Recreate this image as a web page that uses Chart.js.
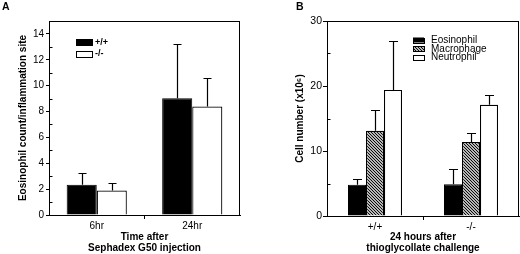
<!DOCTYPE html>
<html>
<head>
<meta charset="utf-8">
<script src="https://cdn.jsdelivr.net/npm/chart.js@4.4.0/dist/chart.umd.min.js"></script>
<style>
  html, body { margin: 0; padding: 0; background: #fff; }
  #wrap { position: relative; width: 520px; height: 254px; }
  canvas { position: absolute; top: 0; }
  .panel { position: absolute; top: 1px; font: bold 10.5px 'Liberation Sans', Arial, sans-serif; line-height: 11px; }
</style>
</head>
<body>
<div id="wrap">
  <canvas id="chartA" width="260" height="254" style="left:0"></canvas>
  <canvas id="chartB" width="260" height="254" style="left:260px"></canvas>
  <div class="panel" style="left:2px">A</div>
  <div class="panel" style="left:296px">B</div>
</div>
<script>
// panel A - eosinophils after Sephadex G50
var timeLabels = ["6hr", "24hr"];
var genotypes = ["+/+", "-/-"];
var eosWild = [2.33, 9.03];
var eosWildErr = [0.91, 4.17];
var eosKnock = [1.89, 8.38];
var eosKnockErr = [0.61, 2.2];

// panel B - cells 24h after thioglycollate
var genotypeLabels = ["+/+", "-/-"];
var cellNames = ["Eosinophil", "Macrophage", "Neutrophil"];
var eosinophil = [4.8, 4.9];
var eosinophilErr = [0.85, 2.4];
var macrophage = [13.1, 11.4];
var macrophageErr = [3.2, 1.3];
var neutrophil = [19.4, 17.1];
var neutrophilErr = [7.6, 1.5];

var FONT = "'Liberation Sans', Arial, Helvetica, sans-serif";
Chart.defaults.font.family = FONT;
Chart.defaults.color = "#000";

// diagonal hatch for macrophage bars
function hatch(ctx) {
  var c = document.createElement("canvas");
  c.width = 3; c.height = 3;
  var g = c.getContext("2d");
  g.fillStyle = "#fff";
  g.fillRect(0, 0, 3, 3);
  g.strokeStyle = "#000";
  g.lineWidth = 1.1;
  g.beginPath();
  g.moveTo(-1, -1); g.lineTo(4, 4);
  g.moveTo(-1, 2); g.lineTo(1, 4);
  g.moveTo(2, -1); g.lineTo(4, 1);
  g.stroke();
  return ctx.createPattern(c, "repeat");
}

// upward error bars with a cap
var errorBars = {
  id: "errorBars",
  afterDatasetsDraw: function (chart, args, opts) {
    var ctx = chart.ctx, y = chart.scales.y;
    ctx.save();
    ctx.strokeStyle = "#000";
    ctx.lineWidth = 1.2;
    chart.data.datasets.forEach(function (ds, i) {
      chart.getDatasetMeta(i).data.forEach(function (bar, j) {
        var top = Math.round(y.getPixelForValue(ds.data[j] + ds.errors[j])) + 0.5;
        var x = Math.round(bar.x) + 0.5;
        ctx.beginPath();
        ctx.moveTo(x, bar.y);
        ctx.lineTo(x, top);
        ctx.moveTo(x - opts.cap / 2, top);
        ctx.lineTo(x + opts.cap / 2, top);
        ctx.stroke();
      });
    });
    ctx.restore();
  }
};

// box around plot, inward minor ticks, legend inside plot
var frame = {
  id: "frame",
  afterDraw: function (chart, args, opts) {
    var ctx = chart.ctx, a = chart.chartArea, y = chart.scales.y;
    ctx.save();
    ctx.strokeStyle = "#000";
    ctx.lineWidth = 1;
    var l = Math.round(a.left) + 0.5, t = Math.round(a.top) + 0.5;
    var r = Math.round(a.right) - 0.5, b = Math.round(a.bottom) + 0.5;
    ctx.strokeRect(l, t, r - l, b - t);
    y.ticks.forEach(function (tk) {
      if (tk.value % opts.major !== 0) {
        var py = Math.round(y.getPixelForValue(tk.value)) + 0.5;
        ctx.beginPath();
        ctx.moveTo(l, py);
        ctx.lineTo(l + 3, py);
        ctx.stroke();
      }
    });
    var lg = opts.legend;
    ctx.font = lg.font;
    ctx.textBaseline = "middle";
    ctx.fillStyle = "#000";
    chart.data.datasets.forEach(function (ds, i) {
      var bx = a.left + lg.x, by = a.top + lg.y + i * lg.step;
      ctx.fillStyle = ds.backgroundColor;
      ctx.fillRect(bx, by, lg.w, lg.h);
      ctx.strokeRect(Math.round(bx) + 0.5, Math.round(by) + 0.5, lg.w, lg.h);
      ctx.fillStyle = "#000";
      ctx.fillText(ds.label, bx + lg.w + lg.gap, by + lg.h / 2 + 0.5);
    });
    ctx.restore();
  }
};

function baseOptions(o) {
  return {
    responsive: false,
    animation: false,
    events: [],
    layout: { padding: { top: 21, right: o.right, left: 0, bottom: 0 } },
    plugins: {
      legend: { display: false },
      tooltip: { enabled: false },
      errorBars: { cap: o.cap },
      frame: { major: o.major, legend: o.legend }
    },
    scales: {
      x: {
        grid: {
          drawOnChartArea: false, offset: true, tickLength: 4,
          tickColor: function (c) { return c.index === 1 ? "#000" : "rgba(0,0,0,0)"; }
        },
        border: { color: "#000" },
        ticks: { font: { size: 10 }, padding: 1, color: "#000" },
        title: {
          display: true, text: o.xTitle, color: "#000",
          font: { size: 10, weight: "bold", lineHeight: 1.1 },
          padding: { top: 0, bottom: 0 }
        },
        afterFit: function (s) { s.height = o.xHeight; }
      },
      y: {
        min: 0, max: o.max,
        grid: {
          drawOnChartArea: false, tickLength: o.tickLen,
          tickColor: function (c) { return c.tick && c.tick.value % o.major === 0 ? "#000" : "rgba(0,0,0,0)"; }
        },
        border: { color: "#000" },
        ticks: {
          stepSize: o.step, autoSkip: false, padding: o.tickPad, color: "#000",
          font: { size: o.yFont },
          callback: function (v) { return v % o.major === 0 ? v : ""; }
        },
        title: {
          display: true, text: o.yTitle, color: "#000",
          font: { size: 10, weight: "bold" },
          padding: { top: o.yTitlePad, bottom: 0 }
        },
        afterFit: function (s) { s.width = o.yWidth; }
      }
    }
  };
}

new Chart(document.getElementById("chartA"), {
  type: "bar",
  data: {
    labels: timeLabels,
    datasets: [
      { label: genotypes[0], data: eosWild, errors: eosWildErr, backgroundColor: "#000",
        borderColor: "#000", borderWidth: 1, categoryPercentage: 0.63, barPercentage: 1 },
      { label: genotypes[1], data: eosKnock, errors: eosKnockErr, backgroundColor: "#fff",
        borderColor: "#000", borderWidth: 1.2, categoryPercentage: 0.63, barPercentage: 1 }
    ]
  },
  options: baseOptions({
    right: 20, cap: 8, major: 2, step: 1, max: 15, tickLen: 3, tickPad: 2, yFont: 10,
    xHeight: 39, yWidth: 49, yTitlePad: 17,
    xTitle: ["Time after", "Sephadex G50 injection"],
    yTitle: "Eosinophil count/inflammation site",
    legend: { x: 27, y: 18, w: 16, h: 6, step: 11.5, gap: 3, font: "bold 9px " + FONT }
  }),
  plugins: [errorBars, frame]
});

var ctxB = document.getElementById("chartB").getContext("2d");
new Chart(ctxB, {
  type: "bar",
  data: {
    labels: genotypeLabels,
    datasets: [
      { label: cellNames[0], data: eosinophil, errors: eosinophilErr, backgroundColor: "#000",
        borderColor: "#000", borderWidth: 1, categoryPercentage: 0.5625, barPercentage: 1 },
      { label: cellNames[1], data: macrophage, errors: macrophageErr, backgroundColor: hatch(ctxB),
        borderColor: "#000", borderWidth: 1.2, categoryPercentage: 0.5625, barPercentage: 1 },
      { label: cellNames[2], data: neutrophil, errors: neutrophilErr, backgroundColor: "#fff",
        borderColor: "#000", borderWidth: 1.2, categoryPercentage: 0.5625, barPercentage: 1 }
    ]
  },
  options: baseOptions({
    right: 1, cap: 9, major: 10, step: 5, max: 30, tickLen: 4, tickPad: 1, yFont: 10.5,
    xHeight: 38, yWidth: 67, yTitlePad: 34,
    xTitle: ["24 hours after", "thioglycollate challenge"],
    yTitle: "Cell number (x10\u2076)",
    legend: { x: 86, y: 16.5, w: 11, h: 5, step: 8.5, gap: 7, font: "10px " + FONT }
  }),
  plugins: [errorBars, frame]
});
</script>
</body>
</html>
